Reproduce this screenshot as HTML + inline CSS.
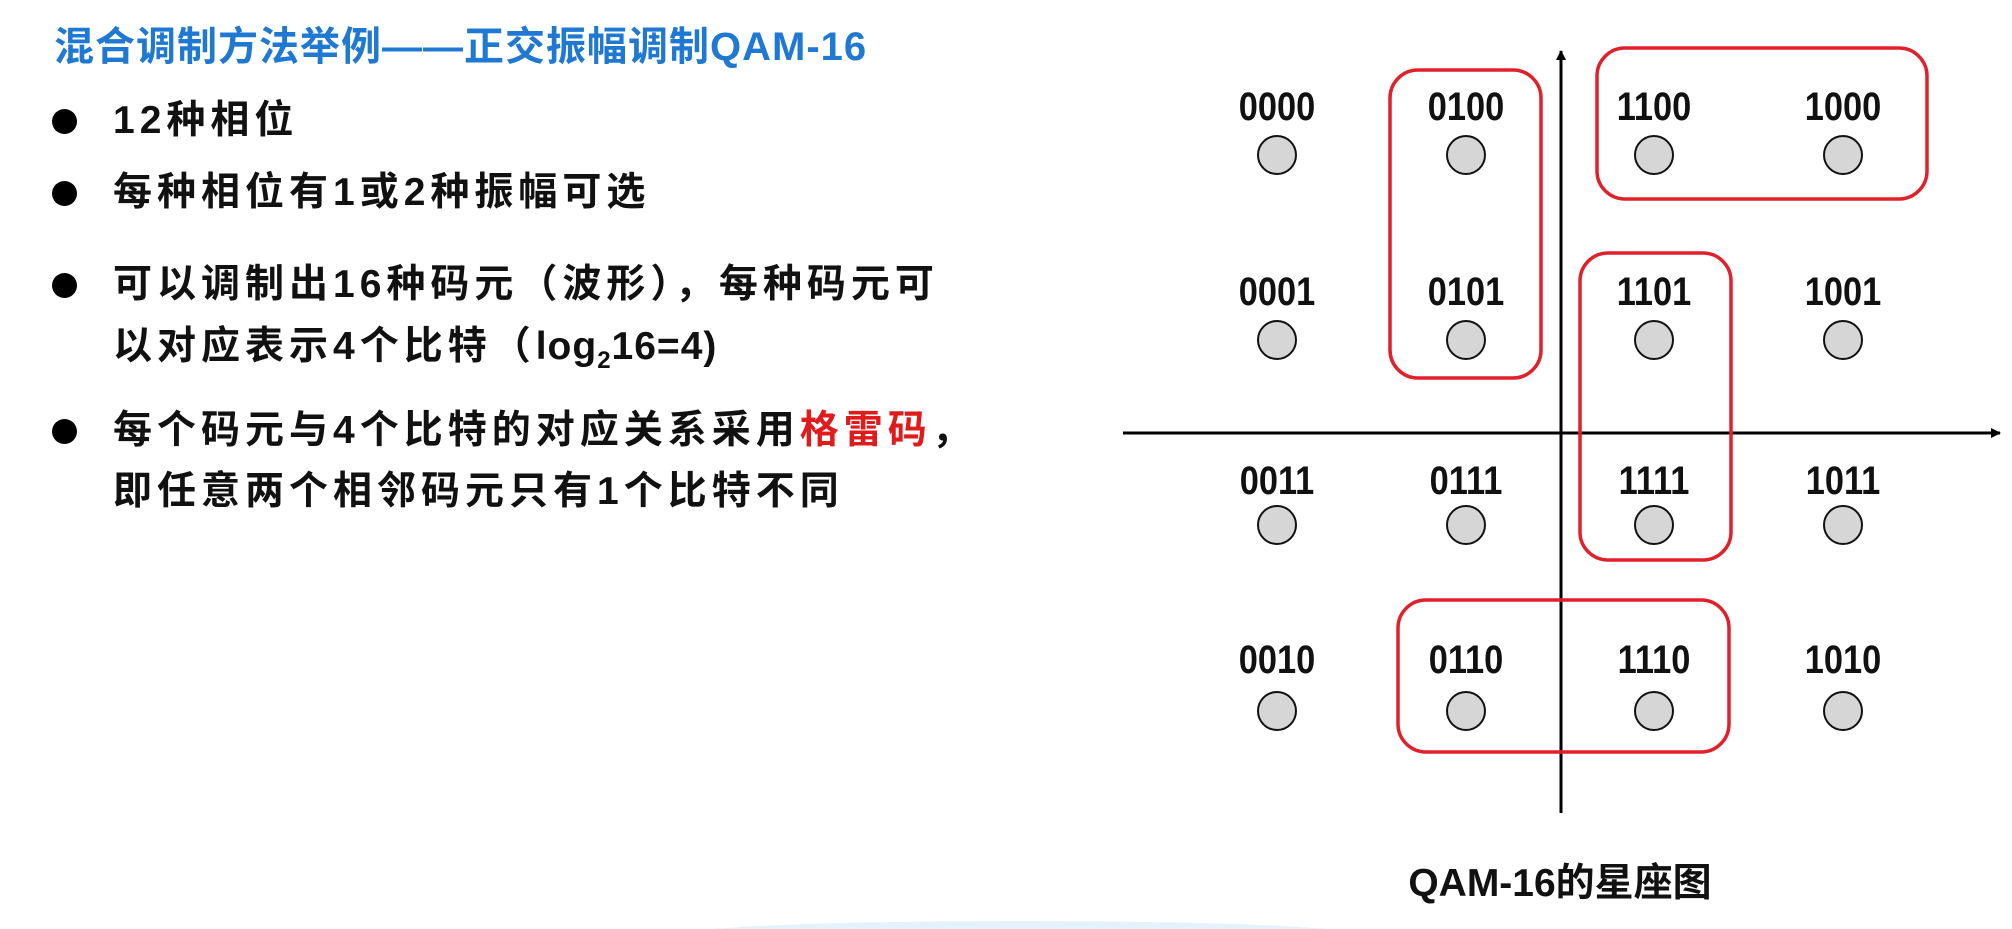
<!DOCTYPE html>
<html><head><meta charset="utf-8"><style>
html,body{margin:0;padding:0;background:#fff;}
body{width:2012px;height:929px;position:relative;overflow:hidden;font-family:"Liberation Sans","Noto Sans CJK SC",sans-serif;}
.t{position:absolute;font-weight:bold;white-space:nowrap;}
.title{left:54px;top:14px;font-size:40px;color:#1f78d1;letter-spacing:1px;}
.b{left:113px;font-size:39px;color:#111;letter-spacing:5px;line-height:46px;}
.dot{position:absolute;left:52px;width:25px;height:25px;border-radius:50%;background:#000;}
.red{color:#e01b1b;}
.n{letter-spacing:1px;}
</style></head><body>
<div class="t title">混合调制方法举例——正交振幅调制QAM-16</div>
<div class="dot" style="top:109px"></div>
<div class="t b" style="top:98px">12种相位</div>
<div class="dot" style="top:181px"></div>
<div class="t b" style="top:170px">每种相位有1或2种振幅可选</div>
<div class="dot" style="top:273px"></div>
<div class="t b" style="top:262px">可以调制出16种码元（波形），每种码元可</div>
<div class="t b" style="top:324px">以对应表示4个比特（<span class="n">log<sub style="font-size:24px">2</sub>16=4)</span></div>
<div class="dot" style="top:419px"></div>
<div class="t b" style="top:408px">每个码元与4个比特的对应关系采用<span class="red">格雷码</span>，</div>
<div class="t b" style="top:469px">即任意两个相邻码元只有1个比特不同</div>
<svg style="position:absolute;left:0;top:0" width="2012" height="929" viewBox="0 0 2012 929">
<defs><marker id="a" markerWidth="10" markerHeight="10" refX="9" refY="5" orient="auto" markerUnits="userSpaceOnUse"><path d="M0,0 L10,5 L0,10 Z" fill="#000"/></marker></defs>
<line x1="1561" y1="813" x2="1561" y2="51" stroke="#000" stroke-width="3" marker-end="url(#a)"/>
<line x1="1123" y1="433" x2="2000" y2="433" stroke="#000" stroke-width="3" marker-end="url(#a)"/>
<g fill="none" stroke="#e0202a" stroke-width="3.5">
<rect x="1390" y="70" width="151" height="308" rx="28"/>
<rect x="1597" y="48" width="330" height="151" rx="28"/>
<rect x="1580" y="253" width="151" height="307" rx="28"/>
<rect x="1398" y="600" width="331" height="152" rx="28"/>
</g>
<g fill="#d6d6d6" stroke="#111" stroke-width="2">
<circle cx="1277" cy="155" r="19"/><circle cx="1466" cy="155" r="19"/><circle cx="1654" cy="155" r="19"/><circle cx="1843" cy="155" r="19"/>
<circle cx="1277" cy="340" r="19"/><circle cx="1466" cy="340" r="19"/><circle cx="1654" cy="340" r="19"/><circle cx="1843" cy="340" r="19"/>
<circle cx="1277" cy="525" r="19"/><circle cx="1466" cy="525" r="19"/><circle cx="1654" cy="525" r="19"/><circle cx="1843" cy="525" r="19"/>
<circle cx="1277" cy="711" r="19"/><circle cx="1466" cy="711" r="19"/><circle cx="1654" cy="711" r="19"/><circle cx="1843" cy="711" r="19"/>
</g>
<g font-family="Liberation Sans, sans-serif" font-weight="bold" font-size="40" fill="#111" text-anchor="middle">
<g transform="translate(1277,0) scale(0.86,1)"><text x="0" y="120">0000</text><text x="0" y="305">0001</text><text x="0" y="494">0011</text><text x="0" y="673">0010</text></g>
<g transform="translate(1466,0) scale(0.86,1)"><text x="0" y="120">0100</text><text x="0" y="305">0101</text><text x="0" y="494">0111</text><text x="0" y="673">0110</text></g>
<g transform="translate(1654,0) scale(0.86,1)"><text x="0" y="120">1100</text><text x="0" y="305">1101</text><text x="0" y="494">1111</text><text x="0" y="673">1110</text></g>
<g transform="translate(1843,0) scale(0.86,1)"><text x="0" y="120">1000</text><text x="0" y="305">1001</text><text x="0" y="494">1011</text><text x="0" y="673">1010</text></g>
</g>
<text x="1560" y="896" text-anchor="middle" font-family="Liberation Sans, Noto Sans CJK SC, sans-serif" font-weight="bold" font-size="39" fill="#111">QAM-16的星座图</text>
<ellipse cx="1020" cy="935" rx="340" ry="14" fill="#e3f2fb"/>
</svg>
</body></html>
